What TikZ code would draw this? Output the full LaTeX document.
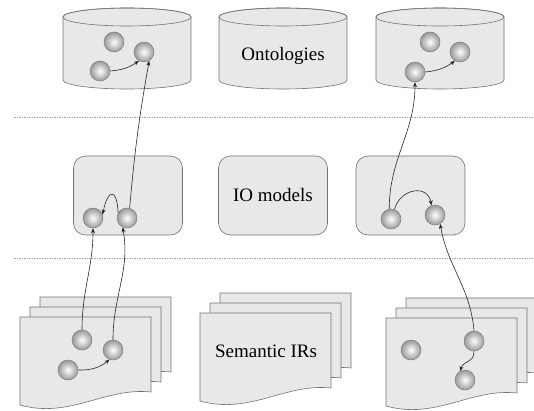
\documentclass[tikz,border=0pt]{standalone}
\usepackage{fontspec}
\setmainfont{Liberation Serif}
\usetikzlibrary{arrows.meta}

\tikzset{
  shapeline/.style={draw=black!55, fill=black!9, line width=0.6pt},
  iobox/.style={shapeline, rounded corners=12pt, minimum width=109pt, minimum height=79pt, font=\fontsize{19}{22}\selectfont},
  concept/.style={circle, minimum size=20pt, inner sep=0pt, draw=black!50, line width=0.5pt, shading=radial, inner color=white, outer color=black!40},
  link/.style={-{Stealth[length=5pt,width=4pt]}, black!85, line width=0.6pt},
  layer/.style={black!35, dash pattern=on 1.5pt off 1pt, line width=0.5pt},
  caption/.style={font=\fontsize{19}{22}\selectfont}
}

% ontology store, #1 = centre x
\newcommand{\ontodb}[1]{%
  \filldraw[shapeline] (#1-64,393) -- (#1-64,330) arc[start angle=180, end angle=360, x radius=64, y radius=9]
    -- (#1+64,393) arc[start angle=0, end angle=180, x radius=64, y radius=9] -- cycle;
  \draw[shapeline, fill=none] (#1,393) ellipse[x radius=64, y radius=9];
}
% one sheet, #1,#2 = top left corner
\newcommand{\irsheet}[2]{%
  \filldraw[shapeline] (#1,#2) -- (#1+131,#2) -- (#1+131,#2-75)
    .. controls (#1+85,#2-70) and (#1+50,#2-102) .. (#1,#2-88) -- cycle;
}
\newcommand{\irstack}[2]{\foreach \k in {2,1,0} {\irsheet{#1+10*\k}{#2+10*\k}}}

\begin{document}
\begin{tikzpicture}[x=1pt, y=1pt]
  \useasboundingbox (0,0) rectangle (534,410);
  % ontologies
  \ontodb{127} \ontodb{283} \ontodb{440}
  \node[caption] (onto) at (283,354) {Ontologies};
  \draw[layer] (14,293) -- (534,293);
  % io models
  \node[iobox] (io1) at (128,214.5) {};
  \node[iobox] (io2) at (273,214.5) {IO models};
  \node[iobox] (io3) at (410.5,214.5) {};
  \draw[layer] (14,152) -- (534,152);
  % semantic irs
  \irstack{20}{93}
  \irstack{200}{97}
  \irstack{386}{92}
  \node[caption] (sir) at (266,59) {Semantic IRs};
  % concepts
  \foreach \n/\x/\y in {a1/114/368, a2/144/358, a3/100/339, b1/430/368, b2/460/358, b3/415/338,
      c1/93/192, c2/127/192, d1/391/191, d2/435/195,
      e1/82/70, e2/113/60, e3/68/40, f1/411/60, f2/474/69, f3/465/30}
    \node[concept] (\n) at (\x,\y) {};
  % links
  \draw[link] (a3.east) to[bend right=15] (a2.240);
  \draw[link] (b3.east) to[bend right=15] (b2.240);
  \draw[link] (c2.75) to[out=85, in=-100] (a2.300);
  \draw[link] (c2.150) .. controls (117,222) and (108,222) .. (c1.20);
  \draw[link] (e1.north) to[out=90, in=-90] (c1.south);
  \draw[link] (e2.north) to[out=90, in=-80] (c2.245);
  \draw[link] (e3.east) to[bend right=20] (e2.250);
  \draw[link] (d1.70) to[out=75, in=100, looseness=1.5] (d2.110);
  \draw[link] (d1.100) to[out=90, in=-90] (b3.south);
  \draw[link] (f2.north) to[out=95, in=-80] (d2.300);
  \draw[link] (f2.south) to[out=-90, in=70, looseness=1.3] (f3.120);
\end{tikzpicture}
\end{document}
